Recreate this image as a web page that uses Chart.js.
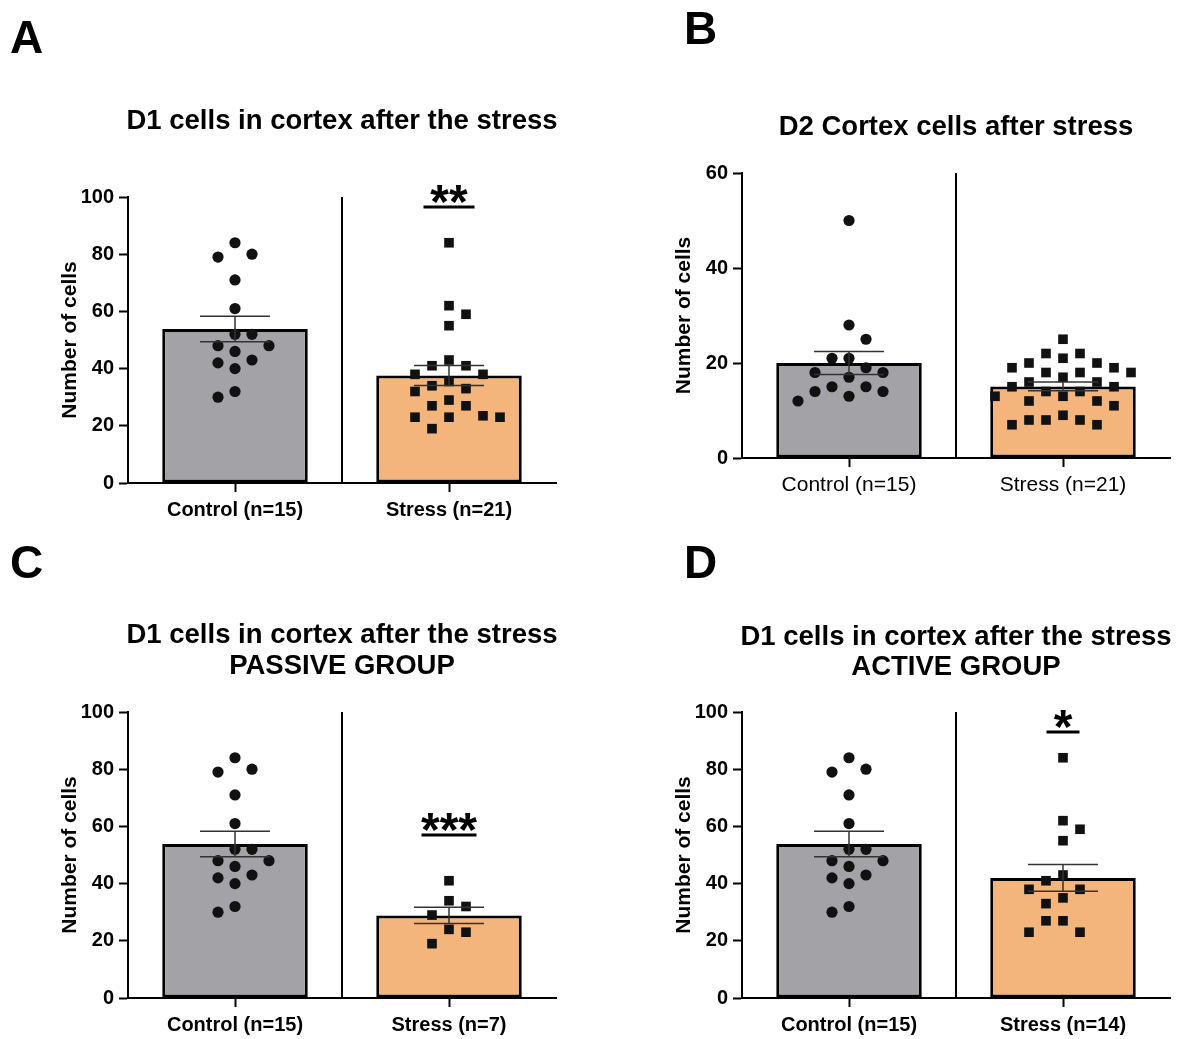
<!DOCTYPE html>
<html>
<head>
<meta charset="utf-8">
<script src="https://cdn.jsdelivr.net/npm/chart.js@4.4.1/dist/chart.umd.min.js"></script>
<style>
  body { margin: 0; background: #fff; }
  #wrap { position: relative; width: 1183px; height: 1039px; }
  .panel { position: absolute; }
</style>
</head>
<body>
<div id="wrap">
  <div class="panel" style="left:0;top:0"><canvas id="chartA" width="600" height="540"></canvas></div>
  <div class="panel" style="left:614px;top:0"><canvas id="chartB" width="569" height="540"></canvas></div>
  <div class="panel" style="left:0;top:540px"><canvas id="chartC" width="600" height="499"></canvas></div>
  <div class="panel" style="left:614px;top:540px"><canvas id="chartD" width="569" height="499"></canvas></div>
</div>
<script>
// cell counts per animal
var labelsA = ['Control (n=15)', 'Stress (n=21)'];
var labelsB = ['Control (n=15)', 'Stress (n=21)'];
var labelsC = ['Control (n=15)', 'Stress (n=7)'];
var labelsD = ['Control (n=15)', 'Stress (n=14)'];

var d1Control = [84, 80, 79, 71, 61, 52, 52, 48, 48, 46, 43, 42, 40, 32, 30];
var d1Stress = [84, 62, 59, 55, 43, 41, 41, 38, 38, 35.5, 34, 33, 32, 29, 27, 27, 23.5, 23, 23, 23, 19];
var d2Control = [50, 28, 25, 21, 21, 19, 18, 18, 17, 15, 15, 14, 14, 13, 12];
var d2Stress = [25, 22, 22, 21, 20, 20, 19, 19, 18, 18, 18, 17, 16, 16, 15, 15, 14, 14, 13, 13, 12, 12, 11, 9, 8, 8, 8, 7, 7];
var d1Passive = [41, 34, 32, 29, 24, 23, 19];
var d1Active = [84, 62, 59, 55, 43, 41, 38, 38, 35, 33, 27, 27, 23, 23];

var yMax = [100, 60, 100, 100];
var stars = ['**', '', '***', '*'];
var starLevel = [96.5, null, 57, 93];

var FONT = "'Liberation Sans', Arial, Helvetica, sans-serif";
var GRAY = '#a3a3a7';
var ORANGE = '#f3b57c';

function mean(a) {
  return a.reduce(function(s, v) { return s + v; }, 0) / a.length;
}
function sem(a) {
  var m = mean(a);
  var ss = a.reduce(function(s, v) { return s + (v - m) * (v - m); }, 0);
  return Math.sqrt(ss / (a.length - 1)) / Math.sqrt(a.length);
}

// spread points sideways so they don't overlap (column scatter)
function swarm(values, cat, chart) {
  var y = chart.scales.y, xs = chart.scales.xj;
  var unit = xs.getPixelForValue(1) - xs.getPixelForValue(0);
  var gap = 17, step = 8.5;
  var placed = [], out = [], flip = 1;
  var order = values.map(function(v, i) { return i; }).sort(function(a, b) { return values[b] - values[a]; });
  order.forEach(function(i) {
    var py = y.getPixelForValue(values[i]);
    for (var k = 0; k < 60; k++) {
      var dx = k === 0 ? 0 : (k % 2 ? flip : -flip) * Math.ceil(k / 2) * step;
      var free = placed.every(function(q) {
        var a = q.dx - dx, b = q.py - py;
        return a * a + b * b >= gap * gap;
      });
      if (free) {
        placed.push({ dx: dx, py: py });
        if (k > 0) flip = -flip;
        out[i] = { x: cat + dx / unit, y: values[i] };
        break;
      }
    }
  });
  return out;
}

function decor(p) {
  return {
    id: 'decor' + p.letter,
    afterDatasetsDraw: function(chart) {
      var ctx = chart.ctx, area = chart.chartArea;
      var x = chart.scales.x, y = chart.scales.y;
      ctx.save();
      // separator between groups
      var mid = (x.getPixelForValue(0) + x.getPixelForValue(1)) / 2;
      ctx.strokeStyle = '#000';
      ctx.lineWidth = 2;
      ctx.beginPath();
      ctx.moveTo(mid, area.top);
      ctx.lineTo(mid, area.bottom);
      ctx.stroke();
      // mean ± SEM
      ctx.strokeStyle = '#333';
      ctx.lineWidth = 1.5;
      p.groups.forEach(function(vals, i) {
        var m = mean(vals), e = sem(vals);
        var cx = x.getPixelForValue(i);
        var hi = y.getPixelForValue(m + e), lo = y.getPixelForValue(m - e);
        ctx.beginPath();
        ctx.moveTo(cx, hi); ctx.lineTo(cx, lo);
        ctx.moveTo(cx - 35, hi); ctx.lineTo(cx + 35, hi);
        ctx.moveTo(cx - 35, lo); ctx.lineTo(cx + 35, lo);
        ctx.stroke();
      });
      // significance mark over the stress group
      if (p.star) {
        var sx = x.getPixelForValue(1), sy = y.getPixelForValue(p.starAt);
        ctx.strokeStyle = '#000';
        ctx.lineWidth = 3;
        ctx.beginPath();
        ctx.moveTo(sx - p.starLine / 2, sy);
        ctx.lineTo(sx + p.starLine / 2, sy);
        ctx.stroke();
        ctx.fillStyle = '#000';
        ctx.font = 'bold 48px ' + FONT;
        ctx.textAlign = 'center';
        ctx.textBaseline = 'alphabetic';
        ctx.fillText(p.star, sx, sy + 11);
      }
      ctx.restore();
    },
    afterDraw: function(chart) {
      var ctx = chart.ctx, area = chart.chartArea;
      ctx.save();
      ctx.fillStyle = '#000';
      ctx.font = 'bold 27.5px ' + FONT;
      ctx.textAlign = 'center';
      ctx.textBaseline = 'middle';
      var cx = (area.left + area.right) / 2;
      p.title.forEach(function(t, i) {
        ctx.fillText(t, cx, p.titleY[i]);
      });
      ctx.font = 'bold 46px ' + FONT;
      ctx.textAlign = 'left';
      ctx.textBaseline = 'alphabetic';
      ctx.fillText(p.letter, p.letterX, p.letterY);
      ctx.restore();
    }
  };
}

function makeChart(p) {
  var tickFont = { family: FONT, size: 20, weight: 'bold' };
  var chart = new Chart(document.getElementById(p.id), {
    type: 'bar',
    data: {
      labels: p.labels,
      datasets: [
        {
          type: 'bar',
          data: p.groups.map(mean),
          backgroundColor: [GRAY, ORANGE],
          borderColor: '#000',
          borderWidth: 3,
          borderSkipped: false,
          grouped: false,
          barPercentage: 0.68,
          categoryPercentage: 1,
          order: 2
        },
        {
          type: 'scatter',
          xAxisID: 'xj',
          data: p.groups[0].map(function(v) { return { x: 0, y: v }; }),
          pointStyle: 'circle',
          pointRadius: 5.6,
          backgroundColor: '#111',
          borderWidth: 0,
          order: 1
        },
        {
          type: 'scatter',
          xAxisID: 'xj',
          data: p.groups[1].map(function(v) { return { x: 1, y: v }; }),
          pointStyle: 'rect',
          pointRadius: 6.8,
          backgroundColor: '#111',
          borderWidth: 0,
          order: 1
        }
      ]
    },
    options: {
      responsive: false,
      animation: false,
      events: [],
      layout: { padding: { top: p.top, right: p.right, left: 0, bottom: 0 } },
      plugins: { legend: { display: false }, tooltip: { enabled: false } },
      scales: {
        x: {
          type: 'category',
          offset: true,
          grid: { offset: false, drawOnChartArea: false, drawTicks: true, tickLength: 9, tickWidth: 2, tickColor: '#000' },
          border: { color: '#000', width: 2 },
          ticks: { color: '#000', font: { family: FONT, size: p.xFontSize, weight: p.xWeight }, padding: 6, maxRotation: 0, autoSkip: false },
          afterFit: function(s) { s.height = p.xHeight; }
        },
        xj: { type: 'linear', display: false, offset: false, grid: { offset: false }, min: -0.5, max: 1.5 },
        y: {
          min: 0,
          max: p.max,
          ticks: { stepSize: 20, color: '#000', font: tickFont, padding: 5 },
          grid: { drawOnChartArea: false, drawTicks: true, tickLength: 9, tickWidth: 2, tickColor: '#000' },
          border: { color: '#000', width: 2 },
          title: { display: true, text: 'Number of cells', color: '#000', font: { family: FONT, size: 21, weight: 'bold' }, padding: { top: 58, bottom: 0 } },
          afterFit: function(s) { s.width = 128; }
        }
      }
    },
    plugins: [decor(p)]
  });
  p.groups.forEach(function(vals, i) {
    chart.data.datasets[i + 1].data = swarm(vals, i, chart);
  });
  chart.update();
  return chart;
}

makeChart({ id: 'chartA', letter: 'A', letterX: 10, letterY: 53, labels: labelsA, groups: [d1Control, d1Stress], max: yMax[0],
  title: ['D1 cells in cortex after the stress'], titleY: [121], top: 197, right: 44, xHeight: 57,
  xFontSize: 20, xWeight: 'bold', star: stars[0], starAt: starLevel[0], starLine: 51 });
makeChart({ id: 'chartB', letter: 'B', letterX: 70, letterY: 44, labels: labelsB, groups: [d2Control, d2Stress], max: yMax[1],
  title: ['D2 Cortex cells after stress'], titleY: [127], top: 173, right: 13, xHeight: 82,
  xFontSize: 21, xWeight: 'normal', star: stars[1], starAt: starLevel[1], starLine: 0 });
makeChart({ id: 'chartC', letter: 'C', letterX: 10, letterY: 38, labels: labelsC, groups: [d1Control, d1Passive], max: yMax[2],
  title: ['D1 cells in cortex after the stress', 'PASSIVE GROUP'], titleY: [95, 126], top: 172, right: 44, xHeight: 41,
  xFontSize: 20, xWeight: 'bold', star: stars[2], starAt: starLevel[2], starLine: 55 });
makeChart({ id: 'chartD', letter: 'D', letterX: 70, letterY: 38, labels: labelsD, groups: [d1Control, d1Active], max: yMax[3],
  title: ['D1 cells in cortex after the stress', 'ACTIVE GROUP'], titleY: [97, 127], top: 172, right: 13, xHeight: 41,
  xFontSize: 20, xWeight: 'bold', star: stars[3], starAt: starLevel[3], starLine: 33 });
</script>
</body>
</html>
